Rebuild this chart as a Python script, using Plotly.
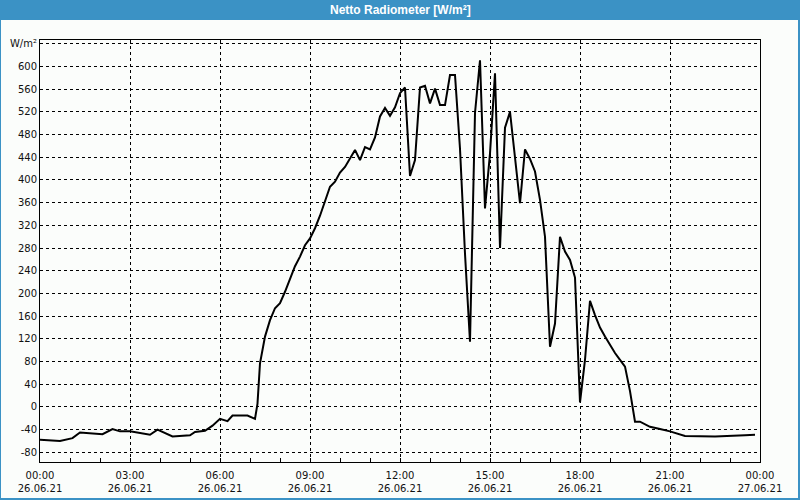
import plotly.graph_objects as go

times = ["00:00","00:40","01:05","01:20","02:05","02:25","02:40","03:00","03:40","03:55",
         "04:25","05:00","05:10","05:30","05:45","06:00","06:15","06:25","06:55","07:10",
         "07:15","07:20","07:30","07:40","07:50","08:00","08:10","08:20","08:30","08:40",
         "08:50","09:00","09:10","09:20","09:30","09:40","09:50","10:00","10:10","10:20",
         "10:30","10:40","10:50","11:00","11:10","11:20","11:30","11:40","11:50","12:00",
         "12:10","12:20","12:30","12:40","12:50","13:00","13:10","13:20","13:30","13:40",
         "13:50","14:00","14:10","14:20","14:30","14:40","14:50","15:00","15:10","15:20",
         "15:30","15:40","15:50","16:00","16:10","16:20","16:30","16:40","16:50","17:00",
         "17:10","17:20","17:30","17:40","17:50","18:00","18:10","18:20","18:30","18:40",
         "18:50","19:00","19:10","19:20","19:30","19:40","19:50","20:00","20:20","20:40",
         "21:00","21:30","22:30","23:30","23:50"]
values = [-58,-60,-55,-45,-48,-39,-43,-43,-49,-40,
          -52,-50,-44,-42,-33,-21,-25,-15,-15,-21,
          6,77,124,153,174,183,203,227,248,265,
          285,297,315,337,362,388,397,413,423,438,
          453,435,458,454,475,512,527,513,528,553,
          563,407,435,563,566,535,561,532,532,585,
          585,455,270,115,518,611,350,447,588,280,
          492,520,440,359,454,437,415,365,300,106,
          147,300,274,259,228,8,83,187,162,140,
          124,109,95,83,71,28,-26,-26,-35,-39,
          -43,-51,-52,-50,-49]

date = "2021-06-26"
x = [f"{date} {t}" for t in times]

y_ticks = list(range(-80, 641, 40))
y_text = [str(v) for v in y_ticks[:-1]] + ["W/m²"]

title = "Netto Radiometer [W/m²]"
bar_color = "#3b92c5"
bg = "#fbfdfb"

W, H = 800, 500
L, R, T, B = 40, 40, 40, 38
pw, ph = W - L - R, H - T - B

def px(xp):
    return (xp - L) / pw

def py(yp):
    return (H - B - yp) / ph

fig = go.Figure(go.Scatter(x=x, y=values, mode="lines",
                           line=dict(color="black", width=2), hoverinfo="skip"))

fig.update_layout(
    width=W, height=H,
    margin=dict(l=L, r=R, t=T, b=B, pad=0, autoexpand=False),
    paper_bgcolor=bar_color,
    plot_bgcolor=bg,
    showlegend=False,
    font=dict(family="DejaVu Sans", size=10, color="#111"),
    shapes=[dict(type="rect", xref="paper", yref="paper",
                 x0=px(1), x1=px(798), y0=py(498), y1=py(20),
                 fillcolor=bg, line=dict(width=0), layer="below")],
    annotations=[dict(text=f"<b>{title}</b>", xref="paper", yref="paper",
                      x=0.5, y=py(10), showarrow=False,
                      font=dict(family="Liberation Sans", size=12, color="white"),
                      xanchor="center", yanchor="middle")],
)

fig.update_xaxes(
    type="date",
    automargin=False,
    range=[f"{date} 00:00", "2021-06-27 00:00"],
    dtick=3 * 3600000,
    tick0=f"{date} 00:00",
    tickformat="%H:%M<br>%d.%m.%y",
    showgrid=True, gridcolor="black", gridwidth=1, griddash="3px,3px",
    showline=True, linecolor="black", linewidth=1, mirror=True,
    ticks="inside", ticklen=4, tickcolor="black",
    minor=dict(dtick=3600000, ticks="inside", ticklen=4, tickcolor="black", showgrid=False),
    zeroline=False,
    ticklabelstandoff=4,
    tickfont=dict(family="DejaVu Sans", size=10, color="#111"),
)

fig.update_yaxes(
    automargin=False,
    range=[-97, 646.7],
    tickmode="array", tickvals=y_ticks, ticktext=y_text,
    showgrid=True, gridcolor="black", gridwidth=1, griddash="3px,3px",
    showline=True, linecolor="black", linewidth=1, mirror=True,
    ticks="", zeroline=False,
    tickfont=dict(family="DejaVu Sans", size=10, color="#111"),
)

fig.write_html("out.html")
